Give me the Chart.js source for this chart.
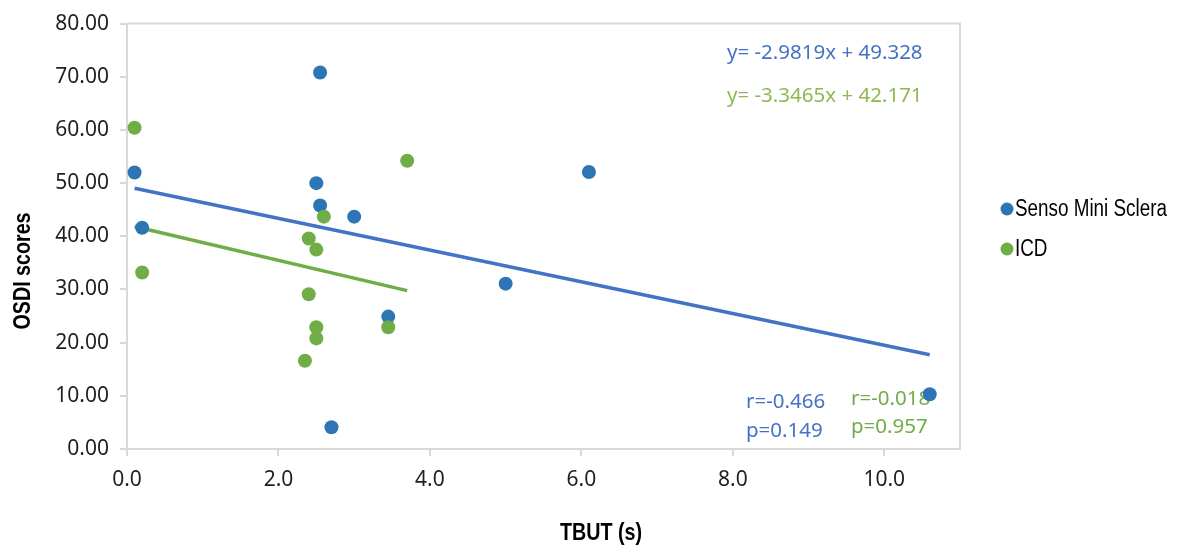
<!DOCTYPE html>
<html>
<head>
<meta charset="utf-8">
<script src="https://cdn.jsdelivr.net/npm/chart.js@4.4.1/dist/chart.umd.min.js"></script>
<style>
  html, body { margin: 0; padding: 0; background: #fff; }
  #wrap { width: 1183px; height: 549px; position: relative; }
</style>
</head>
<body>
<div id="wrap"><canvas id="osdiChart"></canvas></div>
<script>
// series names
const seriesNames = ['Senso Mini Sclera', 'ICD'];

// Senso Mini Sclera: TBUT (s) vs OSDI
const sensoX = [0.1, 0.2, 2.55, 2.5, 2.55, 3.0, 3.45, 2.7, 6.1, 5.0, 10.6];
const sensoY = [52.0, 41.6, 70.8, 50.0, 45.8, 43.7, 24.9, 4.1, 52.1, 31.1, 10.3];

// ICD
const icdX = [0.1, 0.2, 2.6, 2.4, 2.5, 2.4, 2.5, 2.5, 2.35, 3.45, 3.7];
const icdY = [60.4, 33.2, 43.7, 39.6, 37.5, 29.1, 22.9, 20.8, 16.6, 22.9, 54.2];

// trendline end points
const sensoTrendX = [0.1, 10.6];
const sensoTrendY = [49.03, 17.72];
const icdTrendX = [0.1, 3.7];
const icdTrendY = [41.84, 29.79];

// annotation texts
const sensoEq = 'y= -2.9819x + 49.328';
const icdEq = 'y= -3.3465x + 42.171';
const sensoStats = ['r=-0.466', 'p=0.149'];
const icdStats = ['r=-0.018', 'p=0.957'];

const xTitle = 'TBUT (s)';
const yTitle = 'OSDI scores';

const BLUE = '#2E75B6';
const GREEN = '#70AD47';
const BLUE_TXT = '#4472C4';
const GREEN_EQ = '#8DB952';
const GRID = '#d9d9d9';
const NUM_FONT = '"Noto Sans", "Liberation Sans", sans-serif';
const NARROW = '"Liberation Sans", Arial, sans-serif';
const SQUEEZE = 0.82;

function toPoints(xs, ys) {
    return xs.map((x, i) => ({ x: x, y: ys[i] }));
}

// Arial Narrow is not there, so squeeze Liberation Sans
function narrowText(ctx, text, x, y) {
    ctx.save();
    ctx.translate(x, y);
    ctx.scale(SQUEEZE, 1);
    ctx.fillText(text, 0, 0);
    ctx.restore();
}

// borders, texts, legend
const overlay = {
    id: 'overlay',
    beforeDatasetsDraw(chart) {
        const ctx = chart.ctx;
        const a = chart.chartArea;
        ctx.save();
        ctx.strokeStyle = GRID;
        ctx.lineWidth = 2;
        ctx.beginPath();
        ctx.moveTo(a.left, a.top);
        ctx.lineTo(a.right, a.top);
        ctx.lineTo(a.right, a.bottom);
        ctx.stroke();

        ctx.textAlign = 'left';
        ctx.textBaseline = 'alphabetic';
        ctx.font = '20.5px ' + NUM_FONT;
        ctx.fillStyle = BLUE_TXT;
        ctx.fillText(sensoEq, 727, 59);
        ctx.fillStyle = GREEN_EQ;
        ctx.fillText(icdEq, 727, 102);

        ctx.fillStyle = BLUE_TXT;
        ctx.fillText(sensoStats[0], 746, 408);
        ctx.fillText(sensoStats[1], 746, 437);
        ctx.fillStyle = GREEN;
        ctx.fillText(icdStats[0], 851, 405);
        ctx.fillText(icdStats[1], 851, 433);

        // axis titles
        ctx.fillStyle = '#000';
        ctx.font = 'bold 24px ' + NARROW;
        ctx.textAlign = 'center';
        ctx.textBaseline = 'alphabetic';
        narrowText(ctx, xTitle, 601, 540);
        ctx.save();
        ctx.translate(30, 271);
        ctx.rotate(-Math.PI / 2);
        narrowText(ctx, yTitle, 0, 0);
        ctx.restore();

        // legend
        const colors = [BLUE, GREEN];
        const rows = [209, 249];
        ctx.font = '23px ' + NARROW;
        ctx.textAlign = 'left';
        ctx.textBaseline = 'middle';
        seriesNames.forEach((name, i) => {
            ctx.fillStyle = colors[i];
            ctx.beginPath();
            ctx.arc(1007, rows[i], 6.5, 0, Math.PI * 2);
            ctx.fill();
            ctx.fillStyle = '#000';
            narrowText(ctx, name, 1015, rows[i] + 1);
        });
        ctx.restore();
    }
};

const ctx = document.getElementById('osdiChart').getContext('2d');
const myChart = new Chart(ctx, {
    type: 'scatter',
    data: {
        datasets: [
            {
                label: seriesNames[1],
                data: toPoints(icdX, icdY),
                backgroundColor: GREEN,
                borderColor: GREEN,
                pointRadius: 7,
                pointBorderWidth: 0,
                order: 0
            },
            {
                label: seriesNames[0],
                data: toPoints(sensoX, sensoY),
                backgroundColor: BLUE,
                borderColor: BLUE,
                pointRadius: 7,
                pointBorderWidth: 0,
                order: 1
            },
            {
                label: 'trend ICD',
                data: toPoints(icdTrendX, icdTrendY),
                showLine: true,
                borderColor: GREEN,
                borderWidth: 3.5,
                pointRadius: 0,
                order: 2
            },
            {
                label: 'trend Senso',
                data: toPoints(sensoTrendX, sensoTrendY),
                showLine: true,
                borderColor: BLUE_TXT,
                borderWidth: 3.5,
                pointRadius: 0,
                order: 2
            }
        ]
    },
    options: {
        responsive: true,
        maintainAspectRatio: false,
        animation: false,
        layout: { padding: { left: 0, top: 22, right: 223, bottom: 0 } },
        plugins: {
            legend: { display: false },
            tooltip: { enabled: false }
        },
        scales: {
            x: {
                type: 'linear',
                min: 0,
                max: 11,
                afterFit: s => { s.height = 100; },
                afterBuildTicks: s => { s.ticks = s.ticks.filter(t => t.value % 2 === 0); },
                ticks: {
                    stepSize: 2,
                    padding: 11,
                    color: '#1f1f1f',
                    font: { family: NUM_FONT, size: 21 },
                    callback: v => Number(v).toFixed(1)
                },
                grid: { drawOnChartArea: false, drawTicks: true, tickLength: 7, color: GRID, lineWidth: 2 },
                border: { color: GRID, width: 2 }
            },
            y: {
                min: 0,
                max: 80,
                afterFit: s => { s.width = 127; },
                ticks: {
                    stepSize: 10,
                    padding: 11,
                    color: '#1f1f1f',
                    font: { family: NUM_FONT, size: 21 },
                    callback: v => Number(v).toFixed(2)
                },
                grid: { drawOnChartArea: false, drawTicks: true, tickLength: 7, color: GRID, lineWidth: 2 },
                border: { color: GRID, width: 2 }
            }
        }
    },
    plugins: [overlay]
});
</script>
</body>
</html>
